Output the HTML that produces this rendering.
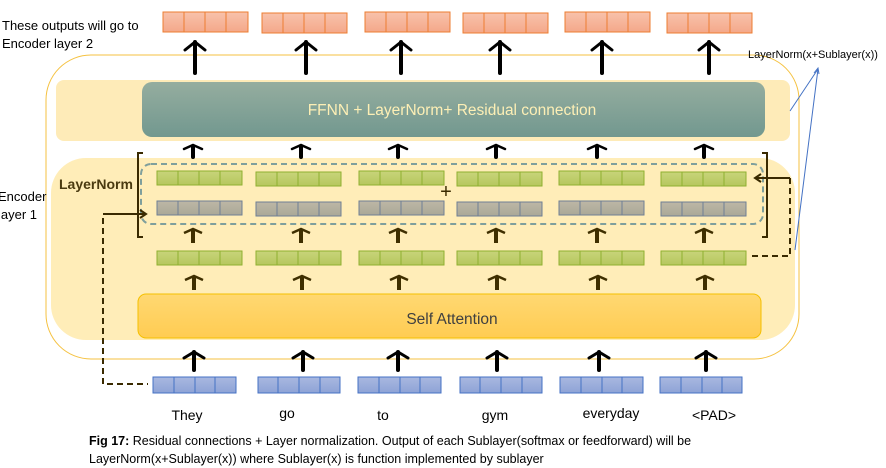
<!DOCTYPE html>
<html><head><meta charset="utf-8"><style>
body{margin:0;background:#fff;}
svg{display:block;font-family:"Liberation Sans",sans-serif;}
</style></head><body>
<svg width="886" height="468" viewBox="0 0 886 468" xmlns="http://www.w3.org/2000/svg">
<defs>
<linearGradient id="teal" x1="0" y1="0" x2="0" y2="1"><stop offset="0" stop-color="#95ad9f"/><stop offset="1" stop-color="#72988f"/></linearGradient>
<linearGradient id="sa" x1="0" y1="0" x2="0" y2="1"><stop offset="0" stop-color="#ffd872"/><stop offset="1" stop-color="#ffcc52"/></linearGradient>
<linearGradient id="or" x1="0" y1="0" x2="0" y2="1"><stop offset="0" stop-color="#f8c2ab"/><stop offset="1" stop-color="#f4a88a"/></linearGradient>
<linearGradient id="gr" x1="0" y1="0" x2="0" y2="1"><stop offset="0" stop-color="#c8d47a"/><stop offset="1" stop-color="#b6c75e"/></linearGradient>
<linearGradient id="gy" x1="0" y1="0" x2="0" y2="1"><stop offset="0" stop-color="#bdb7a6"/><stop offset="1" stop-color="#aaa898"/></linearGradient>
<linearGradient id="bl" x1="0" y1="0" x2="0" y2="1"><stop offset="0" stop-color="#a9b8e0"/><stop offset="1" stop-color="#8ea3d6"/></linearGradient>
</defs>

<!-- outer box -->
<rect x="46" y="55" width="753" height="304" rx="45" fill="none" stroke="#f5c242" stroke-width="1"/>
<!-- FFNN band -->
<rect x="56" y="80" width="734" height="61" rx="8" fill="#feebb8"/>
<rect x="142" y="82" width="623" height="55" rx="10" fill="url(#teal)"/>
<text x="452" y="115" font-size="15.5" fill="#fdefb5" text-anchor="middle">FFNN + LayerNorm+ Residual connection</text>
<!-- lower band -->
<path d="M86 158 H760 A35 35 0 0 1 795 193 V305 A35 35 0 0 1 760 340 H86 A35 35 0 0 1 51 305 V193 A35 35 0 0 1 86 158 Z" fill="#ffedb8"/>
<rect x="138" y="294" width="623" height="44" rx="8" fill="url(#sa)" stroke="#f5c000" stroke-width="1"/>
<text x="452" y="324" font-size="15.5" fill="#404040" text-anchor="middle">Self Attention</text>
<!-- dashed box -->
<rect x="141" y="164" width="622" height="60" rx="10" fill="none" stroke="#7f9f9c" stroke-width="2" stroke-dasharray="6,4"/>

<g id="vecs" stroke-width="1">
<!-- orange -->
<g fill="url(#or)" stroke="#ed7d31">
<rect x="163" y="12" width="85" height="20"/><rect x="262" y="13" width="85" height="20"/><rect x="365" y="12" width="85" height="20"/><rect x="463" y="13" width="85" height="20"/><rect x="565" y="12" width="85" height="20"/><rect x="667" y="13" width="85" height="20"/>
</g>
<g fill="url(#gr)" stroke="#8fb030">
<rect x="157" y="171" width="85" height="14"/><rect x="256" y="172" width="85" height="14"/><rect x="359" y="171" width="85" height="14"/><rect x="457" y="172" width="85" height="14"/><rect x="559" y="171" width="85" height="14"/><rect x="661" y="172" width="85" height="14"/>
<rect x="157" y="251" width="85" height="14"/><rect x="256" y="251" width="85" height="14"/><rect x="359" y="251" width="85" height="14"/><rect x="457" y="251" width="85" height="14"/><rect x="559" y="251" width="85" height="14"/><rect x="661" y="251" width="85" height="14"/>
</g>
<g fill="url(#gy)" stroke="#6f7f95">
<rect x="157" y="201" width="85" height="14"/><rect x="256" y="202" width="85" height="14"/><rect x="359" y="201" width="85" height="14"/><rect x="457" y="202" width="85" height="14"/><rect x="559" y="201" width="85" height="14"/><rect x="661" y="202" width="85" height="14"/>
</g>
<g fill="url(#bl)" stroke="#4472c4">
<rect x="153" y="377" width="83" height="16"/><rect x="258" y="377" width="82" height="16"/><rect x="358" y="377" width="83" height="16"/><rect x="460" y="377" width="82" height="16"/><rect x="560" y="377" width="83" height="16"/><rect x="660" y="377" width="82" height="16"/>
</g>
</g>
<!-- cell dividers -->
<g stroke-width="1">
<g stroke="#ed7d31">
<path d="M184 12v20M205 12v20M226 12v20M283 13v20M304 13v20M325 13v20M386 12v20M407 12v20M428 12v20M484 13v20M505 13v20M526 13v20M586 12v20M607 12v20M628 12v20M688 13v20M709 13v20M730 13v20"/>
</g>
<g stroke="#8fb030">
<path d="M178 171v14M199 171v14M220 171v14M277 172v14M298 172v14M319 172v14M380 171v14M401 171v14M422 171v14M478 172v14M499 172v14M520 172v14M580 171v14M601 171v14M622 171v14M682 172v14M703 172v14M724 172v14"/>
<path d="M178 251v14M199 251v14M220 251v14M277 251v14M298 251v14M319 251v14M380 251v14M401 251v14M422 251v14M478 251v14M499 251v14M520 251v14M580 251v14M601 251v14M622 251v14M682 251v14M703 251v14M724 251v14"/>
</g>
<g stroke="#6f7f95">
<path d="M178 201v14M199 201v14M220 201v14M277 202v14M298 202v14M319 202v14M380 201v14M401 201v14M422 201v14M478 202v14M499 202v14M520 202v14M580 201v14M601 201v14M622 201v14M682 202v14M703 202v14M724 202v14"/>
</g>
<g stroke="#4472c4">
<path d="M174 377v16M195 377v16M215 377v16M278 377v16M299 377v16M320 377v16M379 377v16M400 377v16M420 377v16M480 377v16M501 377v16M522 377v16M581 377v16M602 377v16M622 377v16M681 377v16M702 377v16M722 377v16"/>
</g>
</g>

<!-- top black arrows -->
<g stroke="#000" fill="none" stroke-linecap="round">
<g stroke-width="4">
<path d="M195 73V42M306 73V42M401 73V42M500 73V42M602 73V42M709 73V42"/>
</g>
<g stroke-width="3">
<path d="M185 50l10-8 10 8M296 50l10-8 10 8M391 50l10-8 10 8M490 50l10-8 10 8M592 50l10-8 10 8M699 50l10-8 10 8"/>
</g>
<!-- bottom black arrows -->
<g stroke-width="4"><path d="M194 370V352M303 370V352M398 370V352M497 370V352M599 370V352M706 370V352"/></g>
<g stroke-width="3"><path d="M184 358l10-6 10 6M293 358l10-6 10 6M388 358l10-6 10 6M487 358l10-6 10 6M589 358l10-6 10 6M696 358l10-6 10 6"/></g>
<!-- small arrows above dashed box -->
<g stroke-width="4"><path d="M193 157V146M301 157V146M398 157V146M496 157V146M597 157V146M704 157V146"/></g>
<g stroke-width="2.5"><path d="M184 149l9-4 9 4M292 149l9-4 9 4M389 149l9-4 9 4M487 149l9-4 9 4M588 149l9-4 9 4M695 149l9-4 9 4"/></g>
</g>
<g stroke="#3f2f00" fill="none">
<g stroke-width="4"><path d="M193 243V230M301 243V230M398 243V230M496 243V230M597 243V230M704 243V230"/><path d="M194 290V277M302 290V277M399 290V277M497 290V277M598 290V277M705 290V277"/></g>
<g stroke-width="2.5"><path d="M184 233l9-4 9 4M292 233l9-4 9 4M389 233l9-4 9 4M487 233l9-4 9 4M588 233l9-4 9 4M695 233l9-4 9 4"/><path d="M185 280l9-4 9 4M293 280l9-4 9 4M390 280l9-4 9 4M488 280l9-4 9 4M589 280l9-4 9 4M696 280l9-4 9 4"/></g>
</g>

<!-- brackets -->
<g stroke="#3a2a00" stroke-width="2" fill="none">
<path d="M143 153H138V237H143"/>
<path d="M762 153H767V237H762"/>
<path d="M103 214H146M140 210l6 4-6 4"/>
<path d="M790 178H755M761 174l-6 4 6 4"/>
<path d="M103 218V384H148" stroke-dasharray="6,4"/>
<path d="M790 178V256H752" stroke-dasharray="6,4"/>
</g>
<text x="59" y="189" font-size="14" font-weight="bold" fill="#4a3a10">LayerNorm</text>
<text x="446" y="198" font-size="20" fill="#3a2a00" text-anchor="middle">+</text>

<!-- blue lines -->
<g stroke="#4472c4" stroke-width="1" fill="none">
<path d="M790 111L818 69M795 250L818 69"/>
<path d="M814 73l4-5 1 6"/>
</g>
<text x="748" y="58" font-size="11" fill="#000">LayerNorm(x+Sublayer(x))</text>

<text x="2" y="30" font-size="13" fill="#000">These outputs will go to</text>
<text x="2" y="48" font-size="13" fill="#000">Encoder layer 2</text>
<text x="-2" y="201" font-size="13" fill="#000">Encoder</text>
<text x="-2" y="219" font-size="13" fill="#000">layer 1</text>

<g font-size="14" fill="#000" text-anchor="middle">
<text x="187" y="420">They</text><text x="287" y="418">go</text><text x="383" y="420">to</text><text x="495" y="420">gym</text><text x="611" y="418">everyday</text><text x="714" y="420">&lt;PAD&gt;</text>
</g>
<text x="89" y="445" font-size="12.5" fill="#000"><tspan font-weight="bold">Fig 17:</tspan> Residual connections + Layer normalization. Output of each Sublayer(softmax or feedforward) will be</text>
<text x="89" y="463" font-size="12.5" fill="#000">LayerNorm(x+Sublayer(x)) where Sublayer(x) is function implemented by sublayer</text>
</svg>
</body></html>
